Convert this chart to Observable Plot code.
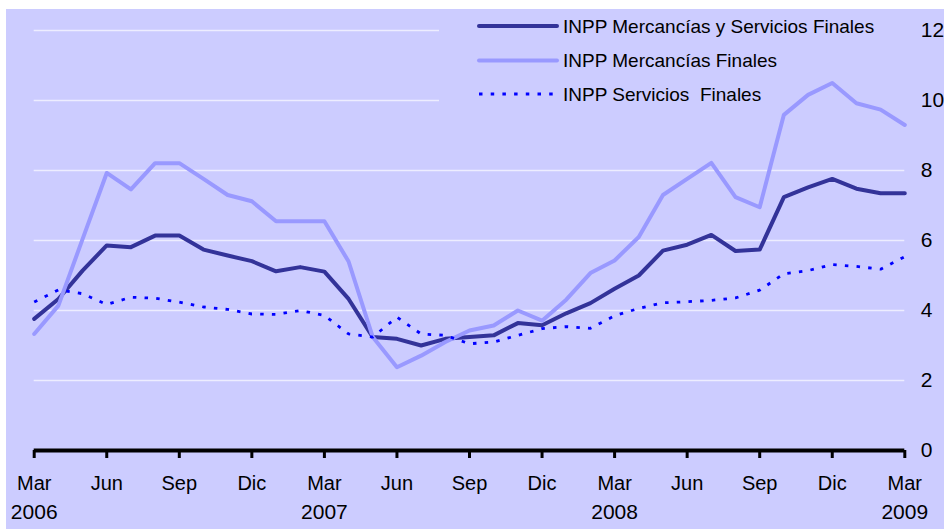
<!DOCTYPE html>
<html>
<head>
<meta charset="utf-8">
<script src="https://cdn.jsdelivr.net/npm/d3@7"></script>
<script src="https://cdn.jsdelivr.net/npm/@observablehq/plot@0.6"></script>
<style>
  html, body { margin: 0; padding: 0; background: #ffffff; }
  #wrap { position: absolute; left: 6px; top: 9px; width: 938px; height: 520px; background: #CCCCFF; overflow: hidden; }
</style>
</head>
<body>
<div id="wrap"></div>
<script>
// Months Mar 2006 – Mar 2009 (37 points)
const months = [
  "Mar","Abr","May","Jun","Jul","Ago","Sep","Oct","Nov","Dic","Ene","Feb",
  "Mar","Abr","May","Jun","Jul","Ago","Sep","Oct","Nov","Dic","Ene","Feb",
  "Mar","Abr","May","Jun","Jul","Ago","Sep","Oct","Nov","Dic","Ene","Feb",
  "Mar"
];
const tickIndex = [0,3,6,9,12,15,18,21,24,27,30,33,36];
const yearLabels = ["2006","2007","2008","2009"];
const yearIndex = [0,12,24,36];
const yTicks = [0,2,4,6,8,10,12];

const seriesNames = [
  "INPP Mercancías y Servicios Finales",
  "INPP Mercancías Finales",
  "INPP Servicios  Finales"
];

// INPP Mercancías y Servicios Finales
const mercServ = [3.76,4.33,5.14,5.86,5.81,6.14,6.14,5.74,5.57,5.41,5.12,5.24,
  5.11,4.33,3.24,3.19,3.00,3.19,3.24,3.29,3.64,3.58,3.92,4.21,
  4.62,5.00,5.71,5.88,6.16,5.70,5.74,7.24,7.52,7.76,7.48,7.35,7.35];
// INPP Mercancías Finales
const merc = [3.33,4.14,6.04,7.93,7.46,8.21,8.21,7.76,7.30,7.12,6.55,6.55,
  6.55,5.40,3.24,2.38,2.71,3.10,3.43,3.57,4.00,3.71,4.31,5.07,
  5.43,6.10,7.30,7.76,8.22,7.24,6.95,9.59,10.16,10.50,9.92,9.74,9.30];
// INPP Servicios Finales
const serv = [4.24,4.59,4.48,4.17,4.38,4.35,4.24,4.10,4.03,3.90,3.89,4.00,
  3.86,3.33,3.24,3.81,3.33,3.29,3.05,3.10,3.29,3.48,3.54,3.49,
  3.85,4.06,4.22,4.25,4.29,4.36,4.58,5.05,5.14,5.31,5.26,5.18,5.54];

const colors = ["#333399", "#9999FF", "#0000FF"];
const dash = "3.5,8.2";
const font = "'Liberation Sans', Arial, sans-serif";

// Legend box (drawn beneath the series, above gridlines)
const legend = (index, scales, values, dims) => {
  const g = d3.create("svg:g").attr("text-anchor", "start");
  g.append("rect").attr("x", 433).attr("y", 0).attr("width", 475).attr("height", 112).attr("fill", "#CCCCFF");
  const rows = [17, 51.5, 85];
  seriesNames.forEach((name, i) => {
    const line = g.append("line")
      .attr("x1", 473).attr("x2", 551).attr("y1", rows[i]).attr("y2", rows[i])
      .attr("stroke", colors[i]);
    if (i < 2) line.attr("stroke-width", 4).attr("stroke-linecap", "round");
    else line.attr("stroke-width", 2.8).attr("stroke-dasharray", dash);
    g.append("text")
      .attr("x", 557).attr("y", rows[i]).attr("dy", "0.35em")
      .attr("text-anchor", "start")
      .attr("font-size", 19).attr("fill", "#000")
      .style("white-space", "pre")
      .text(name);
  });
  return g.node();
};

const chart = Plot.plot({
  width: 938,
  height: 520,
  marginLeft: 27.7,
  marginRight: 39.7,
  marginTop: 21,
  marginBottom: 79,
  style: { background: "transparent", fontFamily: font, color: "#000", overflow: "visible" },
  x: { type: "linear", domain: [0, 36] },
  y: { domain: [0, 12] },
  marks: [
    Plot.gridY(yTicks.filter(d => d > 0), { stroke: "#ffffff", strokeOpacity: 0.65, strokeWidth: 1.5 }),
    legend,
    Plot.ruleY([0], { stroke: "#000", strokeWidth: 4 }),
    Plot.axisX({ ticks: tickIndex, tickFormat: i => months[i], tickSize: 8, tickPadding: 17, strokeWidth: 3, fontSize: 20, label: null }),
    Plot.text(yearLabels, { x: (d, i) => yearIndex[i], text: d => d, frameAnchor: "bottom", lineAnchor: "top", dy: 54, fontSize: 21, fill: "#000" }),
    Plot.axisY({ anchor: "right", ticks: yTicks, tickSize: 0, tickPadding: 16, fontSize: 21, label: null }),
    Plot.line(mercServ, { x: (d, i) => i, y: d => d, stroke: colors[0], strokeWidth: 4 }),
    Plot.line(merc, { x: (d, i) => i, y: d => d, stroke: colors[1], strokeWidth: 4 }),
    Plot.line(serv, { x: (d, i) => i, y: d => d, stroke: colors[2], strokeWidth: 2.8, strokeDasharray: dash, strokeLinecap: "butt" })
  ]
});
document.getElementById("wrap").appendChild(chart);
</script>
</body>
</html>
